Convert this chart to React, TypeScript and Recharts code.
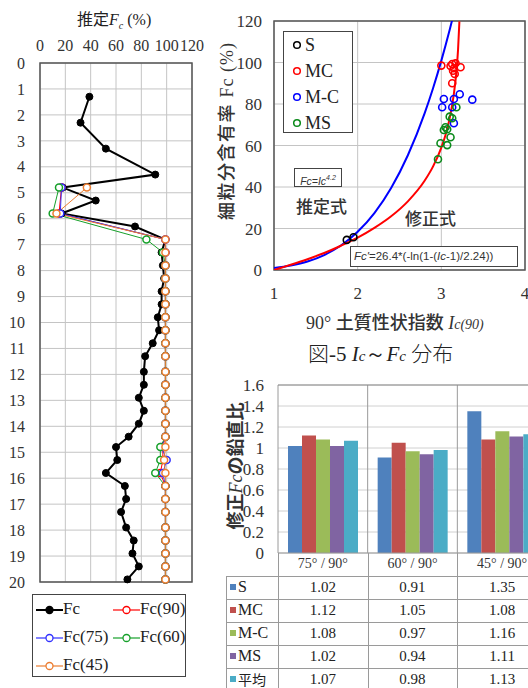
import React from 'react';
import {
  LineChart, Line, XAxis, YAxis, CartesianGrid, ReferenceArea, ReferenceLine,
  ComposedChart, Scatter, BarChart, Bar,
} from 'recharts';

const SERIF = '"Liberation Serif", "Times New Roman", serif';
const JP = '"Noto Sans CJK JP", sans-serif';
const SANS = '"Liberation Sans", Arial, sans-serif';

// ---- left: depth profile of estimated Fc ----
const depths = [1.3, 2.3, 3.3, 4.3, 4.8, 5.3, 5.8, 6.3, 6.8, 7.3, 7.8, 8.3, 8.8, 9.3, 9.8, 10.3, 10.8, 11.3, 11.9, 12.4, 12.9, 13.4, 13.9, 14.4, 14.8, 15.3, 15.8, 16.3, 16.8, 17.3, 17.9, 18.4, 18.9, 19.4, 19.9];
const fcMeasured = [39, 32, 52, 91, 18, 44, 17, 75, 99, 96, 97, 98, 96, 96, 93, 94, 89, 83, 82, 82, 78, 82, 78, 70, 60, 61, 52, 67, 68, 64, 68, 74, 73, 78, 69];
const fc90 = [null, null, null, null, 17, null, 15, null, 99, 99, 99, 99, 99, 99, 99, 99, 99, 99, 99, 99, 99, 99, 99, 99, 97, 97, 95, 99, 99, 99, 99, 99, 99, 99, 99];
const fc75 = [null, null, null, null, 17, null, 16, null, 99, 99, 99, 99, 99, 99, 99, 99, 99, 99, 99, 99, 99, 99, 99, 99, 96, 100, 97, 99, 99, 99, 99, 99, 99, 99, 99];
const fc60 = [null, null, null, null, 15, null, 10, null, 84, 97, 99, 99, 99, 99, 99, 99, 99, 99, 99, 99, 99, 99, 99, 99, 95, 95, 91, 99, 99, 99, 99, 99, 99, 99, 99];
const fc45 = [null, null, null, null, 37, null, 13, null, 99, 99, 99, 99, 99, 99, 99, 99, 99, 99, 99, 99, 99, 99, 99, 99, 99, 98, 99, 99, 99, 99, 99, 99, 99, 99, 99];
const fcTicks = [0, 20, 40, 60, 80, 100, 120];
const depthTicks = [0, 1, 2, 3, 4, 5, 6, 7, 8, 9, 10, 11, 12, 13, 14, 15, 16, 17, 18, 19, 20];

const depthRows = depths.map((d, i) => ({
  depth: d, fc: fcMeasured[i], fc90: fc90[i], fc75: fc75[i], fc60: fc60[i], fc45: fc45[i],
}));

const profileSeries = [
  { key: 'fc90', name: 'Fc(90)', color: '#ff0000' },
  { key: 'fc75', name: 'Fc(75)', color: '#3030ff' },
  { key: 'fc60', name: 'Fc(60)', color: '#16a02a' },
  { key: 'fc45', name: 'Fc(45)', color: '#ec7d31' },
];

// ---- right top: Ic vs Fc ----
const sIc = [1.87, 1.95];
const sFc = [14.5, 15.8];
const mcIc = [3.0, 3.11, 3.13, 3.15, 3.17, 3.16, 3.13, 3.23, 3.14];
const mcFc = [98.5, 98.3, 99.3, 97.2, 99.6, 94.5, 90, 97.7, 96];
const mdcIc = [3.03, 3.01, 3.15, 3.22, 3.37, 3.13, 3.15];
const mdcFc = [82.4, 78.4, 82.4, 84.7, 82.1, 78.4, 70.7];
const msIc = [3.18, 3.1, 3.13, 3.05, 3.07, 3.03, 3.11, 2.99, 3.07, 2.96];
const msFc = [78.4, 73.9, 73.1, 68.8, 67.8, 67.5, 64, 61.1, 60.2, 53.4];

// points read along the blue (Fc=Ic^4.2) and red (corrected) curves
const estIc = [1, 1.2, 1.4, 1.6, 1.8, 2, 2.2, 2.4, 2.6, 2.8, 2.9, 3, 3.05, 3.1, 3.13];
const estFc = [1, 2.2, 4.1, 7.2, 11.8, 18.4, 27.4, 39.5, 55.3, 75.5, 87.5, 100.9, 108.2, 115.8, 120.6];
const corIc = [1, 1.2, 1.4, 1.6, 1.8, 2, 2.2, 2.4, 2.6, 2.8, 2.9, 3, 3.05, 3.1, 3.15, 3.18, 3.2, 3.216];
const corFc = [0, 2.5, 5.2, 8.2, 11.7, 15.6, 20.3, 25.9, 33.1, 43, 49.8, 59, 65.1, 73.2, 84.9, 95.5, 106.3, 119.8];
const icTicks = [1, 2, 3, 4];
const fcAxisTicks = [0, 20, 40, 60, 80, 100, 120];

const pts = (xs: number[], ys: number[]) => xs.map((x, i) => ({ ic: x, fc: ys[i] }));

const soilGroups = [
  { name: 'S', color: '#000000', data: pts(sIc, sFc) },
  { name: 'MC', color: '#ff0000', data: pts(mcIc, mcFc) },
  { name: 'M-C', color: '#0000ff', data: pts(mdcIc, mdcFc) },
  { name: 'MS', color: '#0a8a1a', data: pts(msIc, msFc) },
];

// ---- right bottom: ratio bars ----
const ratioCats = ['75° / 90°', '60° / 90°', '45° / 90°'];
const ratioS = [1.02, 0.91, 1.35];
const ratioMC = [1.12, 1.05, 1.08];
const ratioMdC = [1.08, 0.97, 1.16];
const ratioMS = [1.02, 0.94, 1.11];
const ratioAvg = [1.07, 0.98, 1.13];
const ratioTicks = [0, 0.2, 0.4, 0.6, 0.8, 1, 1.2, 1.4, 1.6];
const bandEdges = [0, 1, 2, 3];

const barSeries = [
  { key: 'S', color: '#4f81bd', values: ratioS },
  { key: 'MC', color: '#c0504d', values: ratioMC },
  { key: 'M-C', color: '#9bbb59', values: ratioMdC },
  { key: 'MS', color: '#8064a2', values: ratioMS },
  { key: '平均', color: '#4bacc6', values: ratioAvg },
];
const barRows = ratioCats.map((c, i) => {
  const row: any = { cat: c, pos: i + 0.5 };
  barSeries.forEach(s => { row[s.key] = s.values[i]; });
  return row;
});

const tickStyle = (size: number) => ({ fontSize: size, fontFamily: SERIF, fill: '#333' });

function DepthChart() {
  return (
    <div style={{ position: 'absolute', left: 0, top: 0 }}>
      <div style={{ position: 'absolute', left: 77, top: 6, fontSize: 16, fontFamily: SERIF, whiteSpace: 'nowrap', color: '#222' }}>
        <span style={{ fontFamily: JP }}>推定</span><i>F</i><sub style={{ fontSize: 10, fontStyle: 'italic' }}>c</sub> (%)
      </div>
      <LineChart layout="vertical" width={212} height={595} data={depthRows} margin={{ top: 33, right: 20, bottom: 13, left: 0 }}>
        <CartesianGrid stroke="#c4c4c4" />
        <XAxis type="number" orientation="top" domain={[0, 120]} ticks={fcTicks} interval={0} height={30}
          tickLine={false} axisLine={false} tickSize={0} tickMargin={12} tick={tickStyle(16)} />
        <YAxis type="number" dataKey="depth" domain={[0, 20]} ticks={depthTicks} interval={0} width={40}
          tickLine={false} axisLine={false} tickSize={0} tickMargin={15} tick={tickStyle(16)} />
        <ReferenceArea x1={0} x2={120} y1={0} y2={20} fill="none" fillOpacity={0} stroke="#555" strokeWidth={1.5} />
        <Line dataKey="fc" type="linear" stroke="#000" strokeWidth={2} connectNulls isAnimationActive={false}
          dot={{ r: 3.5, fill: '#000', stroke: '#000', strokeWidth: 1 }} />
        {profileSeries.map(s => (
          <Line key={s.key} dataKey={s.key} type="linear" stroke={s.color} strokeWidth={1} connectNulls isAnimationActive={false}
            dot={{ r: 3.5, fill: '#fff', stroke: s.color, strokeWidth: 1.5 }} />
        ))}
      </LineChart>
      <ProfileLegend />
    </div>
  );
}

function LegendIcon({ color, filled }: { color: string; filled?: boolean }) {
  return (
    <svg width={27} height={10} style={{ verticalAlign: 'middle' }}>
      <line x1={0} y1={5} x2={27} y2={5} stroke={color} strokeWidth={filled ? 2 : 1.2} />
      <circle cx={13.5} cy={5} r={3.5} fill={filled ? color : '#fff'} stroke={color} strokeWidth={1.3} />
    </svg>
  );
}

function ProfileLegend() {
  const items = [{ name: 'Fc', color: '#000', filled: true }, ...profileSeries.map(s => ({ name: s.name, color: s.color, filled: false }))];
  const pos = [[36, 600], [113, 600], [36, 628], [113, 628], [36, 656]];
  return (
    <div style={{ position: 'absolute', left: 32, top: 594, width: 154, height: 83, border: '1px solid #444', boxSizing: 'border-box', overflow: 'hidden' }}>
      {items.map((it, i) => (
        <div key={it.name} style={{ position: 'absolute', left: pos[i][0] - 33, top: pos[i][1] - 595, fontFamily: SERIF, fontSize: 17, whiteSpace: 'nowrap', lineHeight: '18px', color: '#222' }}>
          <LegendIcon color={it.color} filled={it.filled} />{it.name}
        </div>
      ))}
    </div>
  );
}

function IcFcChart() {
  return (
    <div style={{ position: 'absolute', left: 210, top: 0 }}>
      <ComposedChart width={320} height={335} margin={{ top: 21, right: 5, bottom: 0, left: 0 }}>
        <CartesianGrid stroke="#c4c4c4" />
        <XAxis type="number" dataKey="ic" domain={[1, 4]} ticks={icTicks} interval={0} height={65} allowDataOverflow
          tickLine={false} axisLine={false} tickSize={0} tickMargin={17} tick={tickStyle(17)} />
        <YAxis type="number" dataKey="fc" domain={[0, 120]} ticks={fcAxisTicks} interval={0} width={64} allowDataOverflow
          tickLine={false} axisLine={false} tickSize={0} tickMargin={12} tick={tickStyle(17)} />
        <ReferenceArea x1={1} x2={4} y1={0} y2={120} fill="none" fillOpacity={0} stroke="#555" strokeWidth={1.5} />
        <Line data={pts(estIc, estFc)} dataKey="fc" type="monotone" stroke="#0000ff" strokeWidth={2} dot={false} isAnimationActive={false} />
        <Line data={pts(corIc, corFc)} dataKey="fc" type="monotone" stroke="#ff0000" strokeWidth={2} dot={false} isAnimationActive={false} />
        {soilGroups.map(g => (
          <Scatter key={g.name} data={g.data} isAnimationActive={false}
            shape={(p: any) => <circle cx={p.cx} cy={p.cy} r={3.5} fill="none" stroke={g.color} strokeWidth={1.6} />} />
        ))}
      </ComposedChart>
      {/* legend */}
      <div style={{ position: 'absolute', left: 73, top: 31, width: 70, height: 102, border: '1.5px solid #444', boxSizing: 'border-box', background: '#fff' }}>
        {soilGroups.map((g, i) => (
          <div key={g.name} style={{ position: 'absolute', left: 8, top: 3 + i * 26, fontFamily: SERIF, fontSize: 18, whiteSpace: 'nowrap', color: '#222', lineHeight: '20px' }}>
            <svg width={10} height={10} style={{ verticalAlign: 'middle', marginRight: 3, marginTop: -3 }}>
              <circle cx={5} cy={5} r={3.3} fill="none" stroke={g.color} strokeWidth={1.5} />
            </svg>{g.name}
          </div>
        ))}
      </div>
      <div style={{ position: 'absolute', left: 84, top: 168, width: 48, height: 19, border: '1px solid #444', boxSizing: 'border-box', fontFamily: SANS, fontStyle: 'italic', fontSize: 10.5, lineHeight: '17px', textAlign: 'center', color: '#333' }}>
        Fc=Ic<sup style={{ fontSize: 7 }}>4.2</sup>
      </div>
      <div style={{ position: 'absolute', left: 86, top: 193, fontFamily: JP, fontSize: 17, fontWeight: 500, color: '#333' }}>推定式</div>
      <div style={{ position: 'absolute', left: 195, top: 205, fontFamily: JP, fontSize: 17, fontWeight: 500, color: '#333' }}>修正式</div>
      <div style={{ position: 'absolute', left: 140, top: 246, width: 168, height: 21, border: '1.5px solid #444', boxSizing: 'border-box', background: '#fff', fontFamily: SANS, fontSize: 11.5, lineHeight: '18px', paddingLeft: 3, whiteSpace: 'nowrap', color: '#333' }}>
        <i>Fc'</i>=26.4*(-ln(1-(<i>Ic</i>-1)/2.24))
      </div>
      <div style={{ position: 'absolute', left: 15, top: 131, width: 0, height: 0 }}>
        <div style={{ position: 'absolute', transform: 'translate(-50%, -50%) rotate(-90deg)', whiteSpace: 'nowrap', fontSize: 18, color: '#333' }}>
          <span style={{ fontFamily: JP, fontWeight: 500, letterSpacing: 1.5 }}>細粒分含有率</span>
          <span style={{ fontFamily: SERIF, letterSpacing: 1 }}> Fc (%)</span>
        </div>
      </div>
      <div style={{ position: 'absolute', left: 96, top: 308, whiteSpace: 'nowrap', fontSize: 18, color: '#333', fontFamily: SERIF }}>
        90° <span style={{ fontFamily: JP, fontWeight: 500 }}>土質性状指数</span> <i>I</i><i style={{ fontSize: 14 }}>c(90)</i>
      </div>
    </div>
  );
}

function RatioChart() {
  const colX = [226, 278, 367.7, 457.3, 547];
  const headTop = 553;
  const rowTop = 575.5;
  const rowH = 23;
  return (
    <div style={{ position: 'absolute', left: 0, top: 0 }}>
      <div style={{ position: 'absolute', left: 308, top: 337, whiteSpace: 'nowrap', fontSize: 21, fontFamily: SERIF, color: '#222' }}>
        <span style={{ fontFamily: JP, fontWeight: 300 }}>図</span>-5 <i>I</i><i style={{ fontSize: 15 }}>c</i>～<i>F</i><i style={{ fontSize: 15 }}>c</i> <span style={{ fontFamily: JP, fontWeight: 300 }}>分布</span>
      </div>
      <div style={{ position: 'absolute', left: 210, top: 370 }}>
        <BarChart width={337} height={318} data={barRows} margin={{ top: 15, right: 0, bottom: 0, left: 0 }} barCategoryGap={10} barGap={0}>
          <CartesianGrid vertical={false} stroke="#d0d0d0" />
          <XAxis dataKey="cat" height={135} interval={0} tickLine={false} axisLine={{ stroke: '#9a9a9a' }}
            tickSize={0} tickMargin={5} tick={tickStyle(14)} />
          <XAxis xAxisId="sep" dataKey="pos" type="number" domain={[0, 3]} allowDataOverflow hide />
          <YAxis domain={[0, 1.6]} ticks={ratioTicks} interval={0} width={68} tickLine={false} axisLine={false}
            tickSize={0} tickMargin={14} tick={tickStyle(17)} />
          {bandEdges.map(v => (
            <ReferenceLine key={v} xAxisId="sep" x={v} stroke="#9a9a9a" strokeWidth={1} ifOverflow="visible" />
          ))}
          <ReferenceLine y={1.6} stroke="#8a8a8a" strokeWidth={1} />
          {barSeries.map(s => (
            <Bar key={s.key} dataKey={s.key} fill={s.color} isAnimationActive={false} />
          ))}
        </BarChart>
      </div>
      <div style={{ position: 'absolute', left: 234, top: 466, width: 0, height: 0 }}>
        <div style={{ position: 'absolute', transform: 'translate(-50%, -50%) rotate(-90deg)', whiteSpace: 'nowrap', fontSize: 18, color: '#333', fontFamily: JP, fontWeight: 700 }}>
          修正<i style={{ fontFamily: SERIF, fontWeight: 400 }}>Fc</i>の鉛直比
        </div>
      </div>
      {/* data table */}
      {[1, 2, 3].map(i => (
        <div key={'v' + i} style={{ position: 'absolute', left: colX[i], top: headTop, width: 1, height: 688 - headTop, background: '#9a9a9a' }} />
      ))}
      <div style={{ position: 'absolute', left: colX[0], top: rowTop, width: 1, height: 688 - rowTop, background: '#9a9a9a' }} />
      {[0, 1, 2, 3, 4, 5].map(r => (
        <div key={'h' + r} style={{ position: 'absolute', left: colX[0], top: rowTop + r * rowH, width: 528 - colX[0], height: 1, background: '#9a9a9a' }} />
      ))}
      {barSeries.map((s, r) => (
        <React.Fragment key={s.key}>
          <div style={{ position: 'absolute', left: colX[0] + 4, top: rowTop + r * rowH, height: rowH, display: 'flex', alignItems: 'center', fontFamily: s.key === '平均' ? JP : SERIF, fontSize: s.key === '平均' ? 14 : 16, color: '#222', whiteSpace: 'nowrap' }}>
            <span style={{ display: 'inline-block', width: 6, height: 6, background: s.color, marginRight: 2 }} />{s.key}
          </div>
          {s.values.map((v, c) => (
            <div key={c} style={{ position: 'absolute', left: colX[c + 1], width: colX[c + 2] - colX[c + 1], top: rowTop + r * rowH, height: rowH, display: 'flex', alignItems: 'center', justifyContent: 'center', fontFamily: SERIF, fontSize: 15, color: '#222' }}>
              {v.toFixed(2)}
            </div>
          ))}
        </React.Fragment>
      ))}
    </div>
  );
}

export default function App() {
  return (
    <div style={{ position: 'fixed', left: 0, top: 0, width: 528, height: 688, overflow: 'hidden', background: '#fff' }}>
      <DepthChart />
      <IcFcChart />
      <RatioChart />
    </div>
  );
}
